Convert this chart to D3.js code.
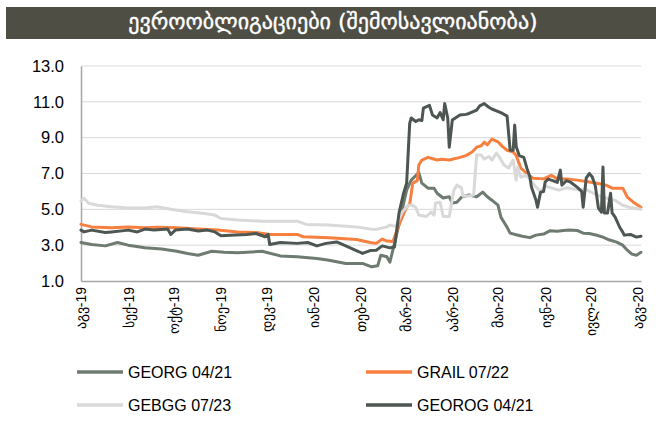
<!DOCTYPE html>
<meta charset="utf-8">
<style>
body { margin: 0; background: #fff; }
svg { display: block; font-family: "Liberation Sans", Arial, "DejaVu Sans", sans-serif; }
.grid line { stroke: #d9d9d9; stroke-width: 1px; }
.series { fill: none; stroke-width: 3px; stroke-linejoin: round; stroke-linecap: round; }
</style>
<svg width="662" height="421"></svg>
<script src="https://d3js.org/d3.v7.min.js"></script>
<script>

var title = "ევროობლიგაციები (შემოსავლიანობა)";
var monthNames = ["იან","თებ","მარ","აპრ","მაი","ივნ","ივლ","აგვ","სექ","ოქტ","ნოე","დეკ"];
var yTicks = [1, 3, 5, 7, 9, 11, 13];

// [date, yield %]
var georg = [["2019-08-01",3.15],["2019-08-08",3.04],["2019-08-17",2.96],["2019-08-25",3.15],["2019-09-01",3.0],
  ["2019-09-12",2.85],["2019-09-23",2.78],["2019-10-03",2.66],["2019-10-10",2.54],["2019-10-17",2.44],["2019-10-26",2.66],
  ["2019-11-03",2.6],["2019-11-12",2.57],["2019-11-28",2.66],["2019-12-10",2.4],["2019-12-21",2.35],["2020-01-03",2.26],
  ["2020-01-11",2.16],["2020-01-22",1.98],["2020-02-02",1.98],["2020-02-08",1.79],["2020-02-12",1.85],["2020-02-14",2.44],
  ["2020-02-18",2.35],["2020-02-20",2.05],["2020-02-24",3.45],["2020-02-27",4.57],["2020-03-02",6.07],["2020-03-05",6.63],
  ["2020-03-10",7.05],["2020-03-12",6.46],["2020-03-16",6.18],["2020-03-20",6.18],["2020-03-22",5.9],["2020-03-26",5.63],
  ["2020-03-30",5.7],["2020-04-01",5.35],["2020-04-04",5.4],["2020-04-07",5.68],["2020-04-12",5.8],["2020-04-17",5.7],
  ["2020-04-21",5.96],["2020-04-24",5.7],["2020-04-27",5.51],["2020-05-01",5.23],["2020-05-03",4.55],["2020-05-07",4.0],
  ["2020-05-09",3.67],["2020-05-13",3.58],["2020-05-17",3.5],["2020-05-22",3.42],["2020-05-26",3.56],["2020-05-31",3.62],
  ["2020-06-04",3.8],["2020-06-09",3.78],["2020-06-13",3.82],["2020-06-17",3.84],["2020-06-22",3.82],["2020-06-26",3.67],
  ["2020-06-30",3.65],["2020-07-05",3.55],["2020-07-09",3.45],["2020-07-13",3.3],["2020-07-18",3.17],["2020-07-22",3.0],
  ["2020-07-25",2.72],["2020-07-28",2.5],["2020-07-31",2.44],["2020-08-03",2.6]];

var grail = [["2019-08-01",4.16],["2019-08-08",4.02],["2019-08-21",3.97],["2019-09-01",4.02],["2019-09-12",3.97],
  ["2019-09-20",4.0],["2019-10-03",3.97],["2019-10-17",3.9],["2019-10-30",3.84],["2019-11-12",3.74],["2019-11-24",3.71],
  ["2019-12-03",3.6],["2019-12-21",3.6],["2019-12-25",3.47],["2020-01-11",3.41],["2020-01-29",3.32],["2020-02-07",3.15],
  ["2020-02-11",3.1],["2020-02-15",3.34],["2020-02-18",3.23],["2020-02-22",3.2],["2020-02-24",3.67],["2020-02-27",4.35],
  ["2020-03-02",5.12],["2020-03-04",5.3],["2020-03-06",6.46],["2020-03-09",6.6],["2020-03-10",7.47],["2020-03-12",7.75],
  ["2020-03-16",7.9],["2020-03-22",7.75],["2020-03-25",7.8],["2020-03-30",7.75],["2020-04-06",7.9],["2020-04-10",8.0],
  ["2020-04-14",8.2],["2020-04-17",8.47],["2020-04-20",8.55],["2020-04-22",8.75],["2020-04-24",8.6],["2020-04-27",8.92],
  ["2020-05-01",8.77],["2020-05-04",8.5],["2020-05-07",8.3],["2020-05-11",8.2],["2020-05-13",8.0],["2020-05-16",7.3],
  ["2020-05-20",7.0],["2020-05-24",6.74],["2020-05-31",6.7],["2020-06-05",6.9],["2020-06-09",6.7],["2020-06-15",6.7],
  ["2020-06-22",6.63],["2020-06-28",6.55],["2020-07-05",6.46],["2020-07-11",6.35],["2020-07-15",6.18],["2020-07-22",6.18],
  ["2020-07-25",5.68],["2020-07-29",5.4],["2020-08-03",5.12]];

var gebgg = [["2019-08-01",5.46],["2019-08-03",5.62],["2019-08-06",5.34],["2019-08-12",5.23],["2019-08-21",5.14],
  ["2019-09-01",5.08],["2019-09-12",5.08],["2019-09-20",5.14],["2019-09-29",5.0],["2019-10-10",4.86],["2019-10-21",4.77],
  ["2019-10-28",4.68],["2019-11-01",4.49],["2019-11-12",4.4],["2019-11-28",4.34],["2019-12-21",4.34],["2019-12-27",4.16],
  ["2020-01-11",4.12],["2020-01-29",4.02],["2020-02-07",3.9],["2020-02-11",3.88],["2020-02-18",4.02],["2020-02-20",4.12],
  ["2020-02-24",4.05],["2020-02-28",4.84],["2020-03-03",5.23],["2020-03-06",5.23],["2020-03-08",5.1],["2020-03-10",4.68],
  ["2020-03-15",4.6],["2020-03-18",4.84],["2020-03-20",4.68],["2020-03-21",5.35],["2020-03-24",5.4],["2020-03-26",4.6],
  ["2020-03-30",4.6],["2020-04-02",6.07],["2020-04-04",6.35],["2020-04-07",6.2],["2020-04-08",5.74],["2020-04-12",5.74],
  ["2020-04-15",5.8],["2020-04-17",8.03],["2020-04-20",8.03],["2020-04-22",7.8],["2020-04-25",7.95],["2020-04-27",7.75],
  ["2020-04-30",8.14],["2020-05-02",7.9],["2020-05-05",7.47],["2020-05-08",7.3],["2020-05-11",7.75],["2020-05-13",6.63],
  ["2020-05-14",7.36],["2020-05-16",6.8],["2020-05-20",6.9],["2020-05-24",6.46],["2020-05-29",5.96],["2020-06-01",6.3],
  ["2020-06-05",6.2],["2020-06-10",6.07],["2020-06-15",6.2],["2020-06-22",6.1],["2020-06-28",6.1],["2020-07-05",5.8],
  ["2020-07-11",5.63],["2020-07-17",5.5],["2020-07-22",5.23],["2020-07-26",5.12],["2020-08-03",5.0]];

var georog = [["2019-08-01",3.84],["2019-08-03",3.74],["2019-08-08",3.84],["2019-08-17",3.71],["2019-08-21",3.74],
  ["2019-09-01",3.84],["2019-09-07",3.74],["2019-09-12",3.9],["2019-09-18",3.84],["2019-09-27",3.9],["2019-09-29",3.6],
  ["2019-10-02",3.84],["2019-10-10",3.9],["2019-10-17",3.79],["2019-10-23",3.84],["2019-10-28",3.74],["2019-11-01",3.52],
  ["2019-11-07",3.55],["2019-11-18",3.6],["2019-11-24",3.65],["2019-11-30",3.47],["2019-12-02",3.6],["2019-12-03",3.04],
  ["2019-12-10",3.15],["2019-12-21",3.1],["2019-12-28",3.15],["2020-01-03",2.96],["2020-01-09",3.1],["2020-01-16",3.18],
  ["2020-01-22",2.96],["2020-01-30",2.66],["2020-02-02",2.54],["2020-02-07",2.7],["2020-02-11",2.72],["2020-02-15",2.96],
  ["2020-02-20",2.85],["2020-02-23",2.9],["2020-02-26",4.8],["2020-02-29",5.9],["2020-03-02",6.46],["2020-03-04",9.8],
  ["2020-03-05",10.1],["2020-03-08",9.9],["2020-03-10",10.0],["2020-03-12",9.95],["2020-03-13",10.65],["2020-03-17",10.8],
  ["2020-03-19",10.26],["2020-03-22",10.1],["2020-03-24",10.4],["2020-03-26",10.0],["2020-03-27",10.9],["2020-03-29",10.1],
  ["2020-03-30",8.47],["2020-04-01",9.98],["2020-04-06",10.26],["2020-04-10",10.3],["2020-04-12",10.35],["2020-04-17",10.54],
  ["2020-04-19",10.77],["2020-04-22",10.9],["2020-04-25",10.7],["2020-04-27",10.6],["2020-04-30",10.5],["2020-05-04",10.35],
  ["2020-05-07",10.2],["2020-05-09",8.3],["2020-05-11",8.3],["2020-05-12",9.7],["2020-05-13",8.5],["2020-05-15",8.0],
  ["2020-05-18",7.9],["2020-05-20",7.3],["2020-05-22",6.8],["2020-05-23",6.24],["2020-05-26",5.51],["2020-05-27",5.12],
  ["2020-05-29",5.96],["2020-05-31",6.0],["2020-06-01",6.52],["2020-06-03",6.69],["2020-06-06",6.6],["2020-06-09",6.5],
  ["2020-06-11",7.19],["2020-06-12",6.35],["2020-06-15",6.6],["2020-06-18",6.5],["2020-06-22",6.24],["2020-06-25",6.0],
  ["2020-06-26",5.12],["2020-06-28",6.74],["2020-06-30",7.0],["2020-07-02",6.8],["2020-07-04",6.3],["2020-07-06",5.07],
  ["2020-07-08",4.84],["2020-07-09",7.36],["2020-07-10",4.79],["2020-07-12",4.8],["2020-07-14",5.9],["2020-07-15",4.8],
  ["2020-07-17",4.57],["2020-07-20",4.0],["2020-07-22",3.73],["2020-07-23",3.56],["2020-07-27",3.6],["2020-07-31",3.45],
  ["2020-08-03",3.5]];

var seriesNames = ["GEORG 04/21", "GRAIL 07/22", "GEBGG 07/23", "GEOROG 04/21"];
var seriesColors = ["#6e7b71", "#f77f3f", "#d9d9d9", "#4d5650"];
var seriesData = [georg, grail, gebgg, georog];

var svg = d3.select("svg");
var parse = d3.timeParse("%Y-%m-%d");

// title bar
svg.append("rect")
  .attr("x", 6).attr("y", 7)
  .attr("width", 650).attr("height", 32)
  .attr("fill", "#4e4e45");
svg.append("text")
  .attr("x", 333).attr("y", 29)
  .attr("text-anchor", "middle")
  .attr("fill", "#fff")
  .attr("stroke", "#fff")
  .attr("stroke-width", 0.4)
  .style("font-family", "'DejaVu Sans', sans-serif")
  .style("font-size", "22px")
  .text(title);

var x = d3.scaleTime()
  .domain([parse("2019-08-01"), parse("2020-08-03")])
  .range([81, 641]);
var y = d3.scaleLinear().domain([1, 13]).range([281, 66]);

// gridlines
svg.append("g").attr("class", "grid")
  .selectAll("line").data(yTicks.slice(1)).enter().append("line")
  .attr("x1", 81).attr("x2", 641)
  .attr("y1", function(d) { return y(d); })
  .attr("y2", function(d) { return y(d); });

var yAxis = svg.append("g")
  .attr("transform", "translate(81,0)")
  .call(d3.axisLeft(y).tickValues(yTicks).tickFormat(d3.format(".1f")).tickSize(0).tickPadding(17));
yAxis.select(".domain").attr("stroke", "#a6a6a6").attr("stroke-width", 1.5);
yAxis.selectAll("text").style("font-size", "16.5px").attr("fill", "#000");

var xAxis = svg.append("g")
  .attr("transform", "translate(0,281)")
  .call(d3.axisBottom(x).ticks(d3.timeMonth.every(1)).tickSize(0)
    .tickFormat(function(d) { return monthNames[d.getMonth()] + "-" + d3.timeFormat("%y")(d); }));
xAxis.select(".domain").attr("stroke", "#a6a6a6").attr("stroke-width", 1.5);
xAxis.selectAll("text")
  .attr("transform", "rotate(-90)")
  .attr("x", -6).attr("y", 0).attr("dy", "0.35em")
  .attr("text-anchor", "end")
  .attr("fill", "#000")
  .style("font-size", "14px");

var line = d3.line()
  .x(function(d) { return x(parse(d[0])); })
  .y(function(d) { return y(d[1]); });

svg.append("g").selectAll("path").data(seriesData).enter().append("path")
  .attr("class", "series")
  .attr("stroke", function(d, i) { return seriesColors[i]; })
  .attr("d", line);

// legend
var legend = svg.append("g").selectAll("g").data(seriesNames).enter().append("g")
  .attr("transform", function(d, i) { return "translate(" + (i % 2 ? 366 : 77) + "," + (i < 2 ? 372 : 405) + ")"; });
legend.append("line")
  .attr("x1", 0).attr("x2", 46)
  .attr("stroke", function(d, i) { return seriesColors[i]; })
  .attr("stroke-width", 3.5);
legend.append("text")
  .attr("x", 51).attr("dy", "0.36em")
  .style("font-size", "16px")
  .text(function(d) { return d; });

</script>
